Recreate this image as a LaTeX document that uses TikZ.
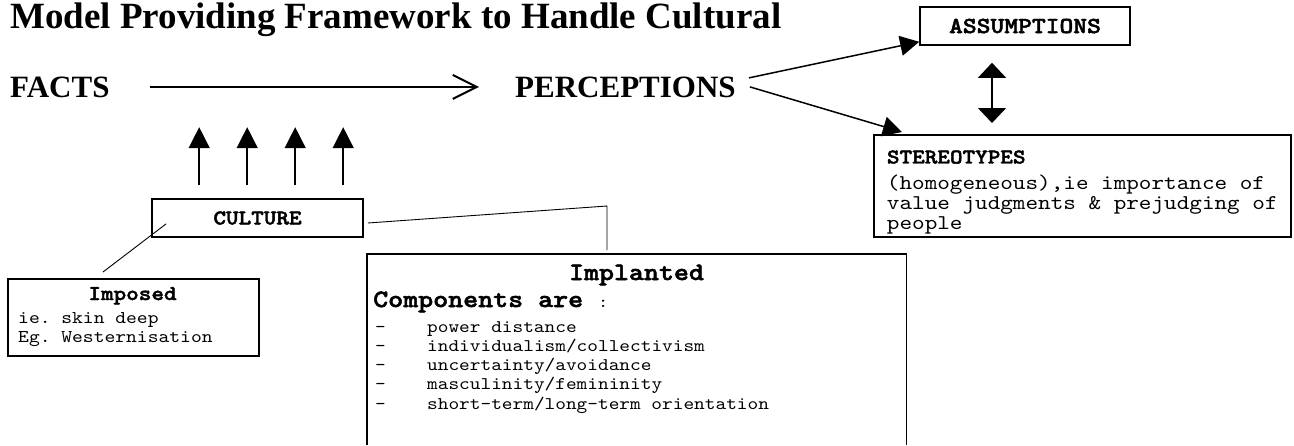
\documentclass[tikz,border=0pt]{standalone}
\usepackage{fontspec}
\setmainfont{Liberation Serif}
\setmonofont{lmmono10-regular.otf}[BoldFont=lmmonolt10-bold.otf, BoldFeatures={FakeBold=2}, FakeStretch=1.143]
\usepackage{tikz}
\usetikzlibrary{calc,arrows.meta}
\newcommand{\fsz}[2]{\fontsize{#1}{#2}\selectfont}
\tikzset{
  box/.style={draw=black, line width=1.6pt, inner sep=0pt},
  thinline/.style={draw=black, line width=0.9pt},
  mainflow/.style={draw=black, line width=2pt, -{Straight Barb[length=24pt,width=24pt]}},
  tipline/.style={draw=black, line width=1.5pt, -{Triangle[length=19pt,width=20pt]}},
  uparrow/.style={draw=black, line width=1.5pt, -{Triangle[length=21pt,width=21pt]}},
  bothway/.style={draw=black, line width=1.5pt, {Triangle[length=15pt,width=28pt]}-{Triangle[length=15pt,width=28pt]}},
  head/.style={font=\fsz{31}{31}\bfseries, inner sep=0pt, anchor=base west},
  boxhead/.style={font=\ttfamily\bfseries\fsz{21}{21}},
  lbl/.style={font=\ttfamily\fsz{18}{18}, inner sep=0pt, anchor=base west},
  itemtxt/.style={font=\ttfamily\fsz{17.8}{17.8}, inner sep=0pt, anchor=base west}
}

\begin{document}
\begin{tikzpicture}[x=1pt, y=-1pt]
  \useasboundingbox (0,0) rectangle (1294,445);

  \node[font=\fsz{37}{37}\bfseries, inner sep=0pt, anchor=base west] (title) at (10,28)
    {Model Providing Framework to Handle Cultural};

  \node[head] (facts) at (10,97) {FACTS};
  \node[head] (perc) at (515,97) {PERCEPTIONS};
  \draw[mainflow] ([xshift=40pt]facts.east) -- ([xshift=-36pt]perc.west);

  \node[box, boxhead, font=\ttfamily\bfseries\fsz{23}{23}, minimum width=210pt, minimum height=38pt] (assump) at (1025,26) {ASSUMPTIONS};
  \node[box, anchor=north west, minimum width=417pt, minimum height=102pt,
        align=left, font=\ttfamily\fsz{21}{20}] (stereo) at (873,134)
    {\rule{0pt}{26pt}\textbf{STEREOTYPES}\\[6pt](homogeneous),ie importance of\\value judgments \& prejudging of\\people};

  \draw[tipline] ([shift={(13,-9)}]perc.east) -- ([shift={(0,-4)}]assump.south west);
  \draw[tipline] ([shift={(14,0)}]perc.east) -- ([shift={(29,-2)}]stereo.north west);
  \draw[bothway] ($(assump.south)+(-33,17)$) -- ($(stereo.north west)+(119,-11)$);

  % culture and its two kinds
  \node[box, boxhead, minimum width=211pt, minimum height=38pt] (culture) at (257.5,218) {CULTURE};
  \foreach \dx in {48,96,144,192}
    \draw[uparrow] ($(culture.north west)+(\dx,-13)$) -- ++(0,-58);

  \node[box, anchor=north west, minimum width=251pt, minimum height=77pt] (imposed) at (7,278) {};
  \node[boxhead, inner sep=0pt, anchor=base] (imposedhead) at (132.5,300) {Imposed};
  \node[lbl] (imposedone) at (18,323) {ie. skin deep};
  \node[lbl] (imposedtwo) at (18,342) {Eg. Westernisation};

  \node[inner sep=0pt, anchor=north west, minimum width=539pt, minimum height=191pt] (implanted) at (367,254) {};
  \draw[box] (implanted.south west) -- (implanted.north west) -- (implanted.north east) -- (implanted.south east);
  \node[font=\ttfamily\bfseries\fsz{25}{25}, inner sep=0pt, anchor=base] (implhead) at (636.5,280) {Implanted};
  \node[inner sep=0pt, anchor=base west] (implcomp) at (373,307)
    {\ttfamily\bfseries\fsz{25}{25}Components are {\mdseries\fsz{17}{17}:}};
  \foreach \comp [count=\i from 0] in {power distance, individualism/collectivism,
      uncertainty/avoidance, masculinity/femininity, short-term/long-term orientation} {
    \node[itemtxt] (dash\i) at (375,332+19.25*\i) {-};
    \node[itemtxt] (comp\i) at (427,332+19.25*\i) {\comp};
  }

  \draw[thinline] ([shift={(15,-14)}]culture.south west) -- ([shift={(96,-6)}]imposed.north west);
  \draw[thinline] ([shift={(4,5)}]culture.east) -- ([shift={(240,-48)}]implanted.north west)
    -- ([shift={(240,-4)}]implanted.north west);
\end{tikzpicture}
\end{document}
